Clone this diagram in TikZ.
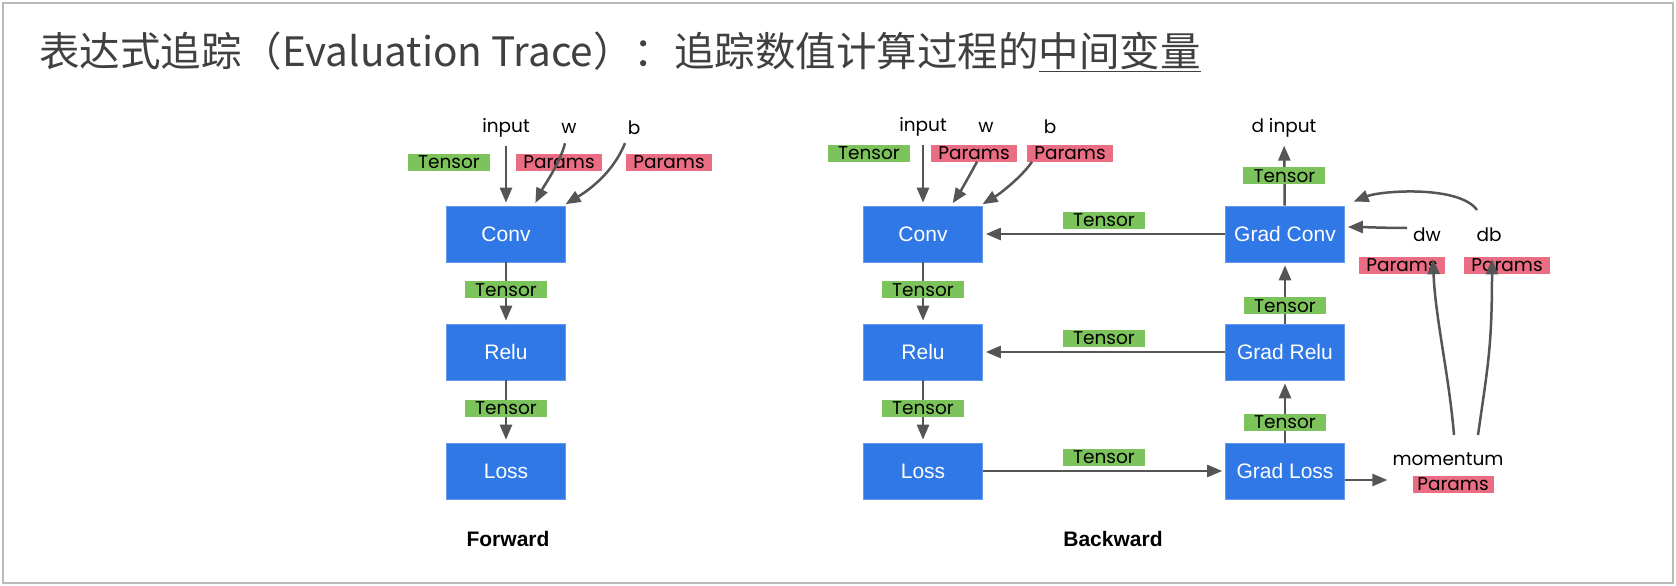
\documentclass[tikz,border=0pt]{standalone}
\usepackage{fontspec}
\setmainfont{Liberation Sans}
\newfontfamily\cjkfont{Noto Sans CJK SC}
\newfontfamily\handfont{Poppins}
\usetikzlibrary{positioning,arrows.meta,calc}
\definecolor{opblue}{HTML}{2F78E6}
\definecolor{tagGreen}{HTML}{7CC35B}
\definecolor{tagPink}{HTML}{EB6D84}
\definecolor{arrGray}{HTML}{555555}
\definecolor{titleGray}{HTML}{404040}

\begin{document}
\begin{tikzpicture}[
    x=1pt, y=-1pt,
    op/.style={draw=opblue!75!white, fill=opblue, text=white, line width=0.6pt, minimum width=119pt, minimum height=56pt, font=\fontsize{21}{24}\selectfont},
    tag/.style={inner sep=0pt, minimum height=17pt, text=black, font=\handfont\fontsize{18.5}{18}\selectfont},
    tensor/.style={tag, fill=tagGreen, minimum width=82pt},
    params/.style={tag, fill=tagPink, minimum width=86pt},
    var/.style={inner sep=2pt, font=\handfont\fontsize{18.5}{20}\selectfont},
    arr/.style={-{Triangle[length=15pt,width=12pt]}, line width=2.5pt, draw=arrGray, shorten >=3pt},
    caption/.style={font=\bfseries\fontsize{21}{24}\selectfont}
  ]
    \useasboundingbox (0,0) rectangle (1676,586);
    \draw[gray!55, line width=1.5pt] (3,3) rectangle (1673,583);

    \node[anchor=west, inner sep=0pt, text=titleGray, font=\cjkfont\fontsize{40.5}{44}\selectfont] (title) at (39,52)
      {表达式追踪（Evaluation Trace）：追踪数值计算过程的\underline{中间变量}};

    % forward
    \node[op] (fconv) at (506,234) {Conv};
    \node[op] (frelu) at (506,352) {Relu};
    \node[op] (floss) at (506,471) {Loss};
    \node[caption] (fcap) at (508,539) {Forward};

    \node[var] (fin) at (506,128) {input};
    \node[var] (fw) at (569,128) {w};
    \node[var] (fb) at (634,128) {b};
    \node[tensor] (fint) at (449,162) {Tensor};
    \node[params] (fwp) at (559,162) {Params};
    \node[params] (fbp) at (669,162) {Params};

    \draw[arr, shorten <=6pt] (fin) -- (fconv);
    \draw[arr] ([shift={(-4pt,-8pt)}]fw.south) .. controls +(-5,20) and +(10,-20) .. ([xshift=28pt]fconv.north);
    \draw[arr] ([shift={(-9pt,-6pt)}]fb.south) .. controls +(-12,30) and +(25,-15) .. ([xshift=57pt]fconv.north);
    \draw[arr] (fconv) -- node[tensor, pos=0.45] {Tensor} (frelu);
    \draw[arr] (frelu) -- node[tensor, pos=0.45] {Tensor} (floss);

    % backward
    \node[op] (bconv) at (923,234) {Conv};
    \node[op] (brelu) at (923,352) {Relu};
    \node[op] (bloss) at (923,471) {Loss};
    \node[caption] (bcap) at (1113,539) {Backward};

    \node[var] (bin) at (923,127) {input};
    \node[var] (bw) at (986,127) {w};
    \node[var] (bb) at (1050,127) {b};
    \node[tensor] (bint) at (869,153) {Tensor};
    \node[params] (bwp) at (974,153) {Params};
    \node[params] (bbp) at (1070,153) {Params};

    \draw[arr, shorten <=6pt] (bin) -- (bconv);
    \draw[arr] ([xshift=3pt]bwp.south) .. controls +(-8,15) and +(8,-12) .. ([xshift=28pt]bconv.north);
    \draw[arr] ([xshift=-38pt]bbp.south) .. controls +(-10,15) and +(20,-12) .. ([xshift=57pt]bconv.north);
    \draw[arr] (bconv) -- node[tensor, pos=0.45] {Tensor} (brelu);
    \draw[arr] (brelu) -- node[tensor, pos=0.45] {Tensor} (bloss);

    \node[op] (gconv) at (1285,234) {Grad Conv};
    \node[op] (grelu) at (1285,352) {Grad Relu};
    \node[op] (gloss) at (1285,471) {Grad Loss};

    \node[var] (din) at (1284,128) {d input};
    \node[var] (dw) at (1427,235) {dw};
    \node[var] (db) at (1489,235) {db};
    \node[params] (dwp) at (1402,265) {Params};
    \node[params] (dbp) at (1507,265) {Params};
    \node[var] (mom) at (1448,459) {momentum};
    \node[params, minimum width=81pt] (momp) at (1453,484) {Params};

    \draw[arr] (gconv) -- node[tensor, above=4pt] {Tensor} (bconv);
    \draw[arr] (grelu) -- node[tensor, above=4pt] {Tensor} (brelu);
    \draw[arr] (bloss) -- node[tensor, above=4pt] {Tensor} (gloss);

    \draw[arr] (gloss) -- node[tensor, pos=0.33] {Tensor} (grelu);
    \draw[arr] (grelu) -- node[tensor, pos=0.29] {Tensor} (gconv);
    \draw[arr, shorten >=6pt] (gconv) -- node[tensor, pos=0.45] {Tensor} (din);

    \draw[arr] ([shift={(-20pt,7pt)}]dw.center) .. controls +(-20,0) and +(15,0) .. ([yshift=7pt]gconv.east);
    \draw[arr] ([shift={(-12pt,25pt)}]db.center) .. controls +(-18,-25) and +(30,-12) .. ([shift={(6pt,3pt)}]gconv.north east);
    \draw[arr] ([yshift=-9pt]gloss.east) -- ([yshift=-9pt]gloss.east -| mom.west);
    \draw[arr] ([shift={(6pt,24pt)}]mom.center) .. controls +(-5,-60) and +(2,60) .. ([xshift=31pt]dwp.north);
    \draw[arr] ([shift={(30pt,24pt)}]mom.center) .. controls +(10,-70) and +(0,90) .. ([xshift=-15pt]dbp.north);
  \end{tikzpicture}
\end{document}
